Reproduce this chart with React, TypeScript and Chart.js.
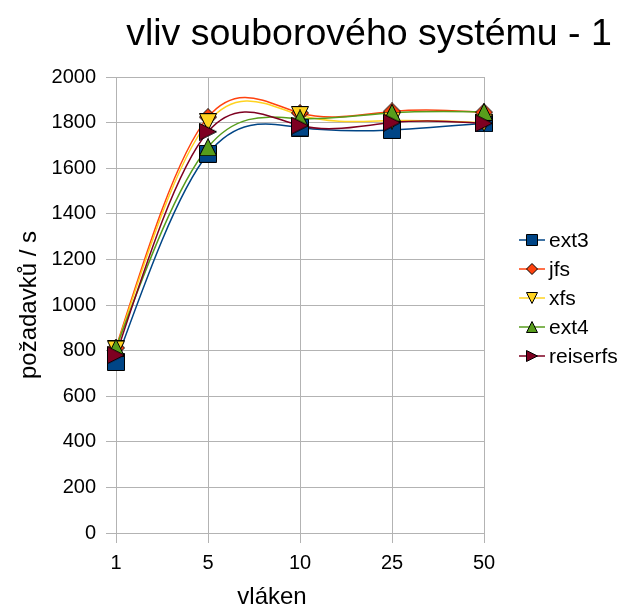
import React, { useEffect, useRef } from "react";
import { Chart, registerables } from "chart.js";

Chart.register(...registerables);

const categories = ["1", "5", "10", "25", "50"];
const seriesNames = ["ext3", "jfs", "xfs", "ext4", "reiserfs"];
const ext3 = [750, 1663, 1778, 1768, 1797];
const jfs = [812, 1824, 1842, 1849, 1845];
const xfs = [805, 1802, 1833, 1809, 1800];
const ext4 = [812, 1692, 1818, 1843, 1847];
const reiserfs = [780, 1760, 1787, 1800, 1797];
const seriesColors = ["#004586", "#ff420e", "#ffd320", "#579d1c", "#7e0021"];
const seriesShapes = ["square", "diamond", "down", "up", "right"];
const yTicks = [0, 200, 400, 600, 800, 1000, 1200, 1400, 1600, 1800, 2000];

const titleText = "vliv souborového systému - 1";
const xTitle = "vláken";
const yTitle = "požadavků / s";
const FONT = '"Liberation Sans", Arial, sans-serif';

function drawShape(ctx: CanvasRenderingContext2D, shape: string, cx: number, cy: number, s: number, fill: string) {
  const h = s / 2;
  ctx.beginPath();
  switch (shape) {
    case "square":
      ctx.rect(cx - h, cy - h, s, s);
      break;
    case "diamond":
      ctx.moveTo(cx, cy - h);
      ctx.lineTo(cx + h, cy);
      ctx.lineTo(cx, cy + h);
      ctx.lineTo(cx - h, cy);
      break;
    case "down":
      ctx.moveTo(cx - h, cy - h);
      ctx.lineTo(cx + h, cy - h);
      ctx.lineTo(cx, cy + h);
      break;
    case "up":
      ctx.moveTo(cx, cy - h);
      ctx.lineTo(cx + h, cy + h);
      ctx.lineTo(cx - h, cy + h);
      break;
    case "right":
      ctx.moveTo(cx - h, cy - h);
      ctx.lineTo(cx + h, cy);
      ctx.lineTo(cx - h, cy + h);
      break;
  }
  ctx.closePath();
  ctx.fillStyle = fill;
  ctx.fill();
  ctx.strokeStyle = "#000000";
  ctx.lineWidth = 1;
  ctx.stroke();
}

function makeMarker(shape: string, s: number, fill: string) {
  const c = document.createElement("canvas");
  const n = s + 1;
  c.width = n;
  c.height = n;
  const ctx = c.getContext("2d")!;
  drawShape(ctx, shape, n / 2, n / 2, s, fill);
  return c;
}

// Natural cubic spline control points (like the office-suite "cubic spline" smoothing),
// applied to the line element's own points, which Chart.js placed via its scales.
const naturalSpline = {
  id: "naturalSpline",
  beforeDatasetDraw(chart: any, args: any) {
    const meta = args.meta;
    const line = meta.dataset;
    const pts = meta.data;
    if (!line || !pts || pts.length < 3) return;
    const n = pts.length - 1;
    const xs = pts.map((p: any) => p.x);
    const ys = pts.map((p: any) => p.y);
    const h = (xs[n] - xs[0]) / n;
    // solve for scaled second derivatives (M*h^2/6)
    const a: number[] = new Array(n + 1).fill(0);
    const m = n - 1;
    const diag: number[] = [];
    const rhs: number[] = [];
    for (let i = 1; i <= m; i++) {
      diag.push(4);
      rhs.push(ys[i + 1] - 2 * ys[i] + ys[i - 1]);
    }
    for (let i = 1; i < m; i++) {
      const w = 1 / diag[i - 1];
      diag[i] -= w;
      rhs[i] -= w * rhs[i - 1];
    }
    const sol: number[] = new Array(m).fill(0);
    sol[m - 1] = rhs[m - 1] / diag[m - 1];
    for (let i = m - 2; i >= 0; i--) sol[i] = (rhs[i] - sol[i + 1]) / diag[i];
    for (let i = 1; i <= m; i++) a[i] = sol[i - 1];
    const slopeH: number[] = [];
    for (let i = 0; i < n; i++) slopeH.push(ys[i + 1] - ys[i] - (2 * a[i] + a[i + 1]));
    slopeH.push(ys[n] - ys[n - 1] + (a[n - 1] + 2 * a[n]));
    for (let i = 0; i <= n; i++) {
      const p = pts[i];
      p.cp1x = xs[i] - h / 3;
      p.cp1y = ys[i] - slopeH[i] / 3;
      p.cp2x = xs[i] + h / 3;
      p.cp2y = ys[i] + slopeH[i] / 3;
    }
    line._pointsUpdated = true;
    line._path = undefined;
  },
};

export default function App() {
  const ref = useRef<HTMLCanvasElement | null>(null);

  useEffect(() => {
    document.body.style.margin = "0";
    const values = [ext3, jfs, xfs, ext4, reiserfs];
    const lineSets = values.map((v, i) => ({
      label: seriesNames[i] + "-line",
      data: v,
      borderColor: seriesColors[i],
      borderWidth: 1.5,
      pointRadius: 0,
      tension: 0.4,
      fill: false,
      clip: false as any,
      order: 10 - i,
    }));
    const pointSets = values.map((v, i) => ({
      label: seriesNames[i],
      data: v,
      showLine: false,
      pointStyle: makeMarker(seriesShapes[i], 17, seriesColors[i]) as any,
      pointRadius: 9,
      borderColor: "#000",
      backgroundColor: seriesColors[i],
      clip: false as any,
      order: 5 - i,
    }));

    const overlay = {
      id: "overlay",
      afterDraw(chart: any) {
        const ctx = chart.ctx as CanvasRenderingContext2D;
        ctx.save();
        ctx.fillStyle = "#000";
        ctx.font = `37.5px ${FONT}`;
        ctx.textAlign = "center";
        ctx.textBaseline = "alphabetic";
        ctx.fillText(titleText, 369, 45);
        ctx.font = `24px ${FONT}`;
        ctx.fillText(xTitle, 272, 604);
        ctx.save();
        ctx.translate(36, 305);
        ctx.rotate(-Math.PI / 2);
        ctx.textBaseline = "alphabetic";
        ctx.fillText(yTitle, 0, 0);
        ctx.restore();
        const y0 = 240;
        const dy = 29;
        seriesNames.forEach((name, i) => {
          const y = y0 + i * dy;
          ctx.beginPath();
          ctx.strokeStyle = seriesColors[i];
          ctx.lineWidth = 1.5;
          ctx.moveTo(519, y);
          ctx.lineTo(545, y);
          ctx.stroke();
          drawShape(ctx, seriesShapes[i], 532, y, 11, seriesColors[i]);
          ctx.fillStyle = "#000";
          ctx.font = `21px ${FONT}`;
          ctx.textAlign = "left";
          ctx.textBaseline = "middle";
          ctx.fillText(name, 549, y + 1);
        });
        ctx.restore();
      },
    };

    const gridColor = "#b3b3b3";
    const chart = new Chart(ref.current!, {
      type: "line",
      data: { labels: categories, datasets: [...lineSets, ...pointSets] as any },
      options: {
        responsive: false,
        animation: false,
        layout: { padding: { left: 0, top: 77, right: 142, bottom: 0 } },
        plugins: { legend: { display: false }, title: { display: false }, tooltip: { enabled: false } },
        scales: {
          x: {
            offset: false,
            grid: { color: gridColor, lineWidth: 1, tickLength: 10, drawTicks: true },
            border: { color: gridColor },
            ticks: { color: "#000", font: { family: FONT, size: 20 }, padding: 8, maxRotation: 0 },
            afterFit: (s: any) => {
              s.height = 74;
            },
          },
          y: {
            min: 0,
            max: 2000,
            afterBuildTicks: (s: any) => {
              s.ticks = yTicks.map((v) => ({ value: v }));
            },
            grid: { color: gridColor, lineWidth: 1, tickLength: 10 },
            border: { color: gridColor },
            ticks: {
              color: "#000",
              font: { family: FONT, size: 20 },
              padding: 10,
              callback: (v: any) => String(v),
            },
            afterFit: (s: any) => {
              s.width = 116;
            },
          },
        },
      },
      plugins: [naturalSpline, overlay],
    });
    return () => chart.destroy();
  }, []);

  return <canvas ref={ref} width={626} height={607} style={{ display: "block" }} />;
}
